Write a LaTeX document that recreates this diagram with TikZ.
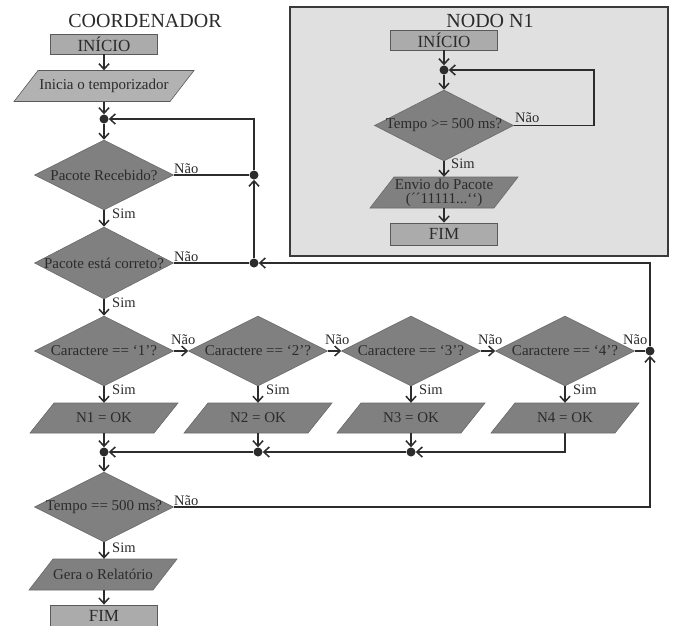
\documentclass[tikz,border=0pt]{standalone}
\usepackage{fontspec}
\setmainfont{Liberation Serif}
\usetikzlibrary{arrows.meta,shapes.geometric}
\definecolor{txt}{HTML}{2B2B2B}
\definecolor{ln}{HTML}{2C2C2C}
\definecolor{boxfill}{HTML}{ABABAB}
\definecolor{boxedge}{HTML}{5A5A5A}
\definecolor{decfill}{HTML}{808080}
\definecolor{decedge}{HTML}{6A6A6A}
\definecolor{lightp}{HTML}{B2B2B2}
\definecolor{framefill}{HTML}{E0E0E0}
\definecolor{frameedge}{HTML}{3A3A3A}
\newcommand\pgram[7]{%
  \path[#6] ([shift={({-(#4)/2-12},{(#5)/2})}]#2,#3) -- ++(24,{-(#5)}) -- ++(#4,0) -- ++(-24,#5) -- cycle;
  \node[pbody, minimum width=#4pt, minimum height=#5pt] (#1) at (#2,#3) {#7};
}
\tikzset{
  every node/.style={text=txt, font=\fontsize{15}{14}\selectfont},
  box/.style={draw=boxedge, fill=boxfill, line width=0.8pt, minimum width=107pt, minimum height=20pt, inner sep=0pt, font=\fontsize{17}{19}\selectfont},
  dec/.style={diamond, fill=decfill, draw=decedge, line width=0.6pt, minimum width=139pt, minimum height=70pt, inner sep=0pt},
  pbody/.style={inner sep=0pt, align=center},
  pdark/.style={fill=decfill, draw=decedge, line width=0.6pt},
  plight/.style={fill=lightp, draw=boxedge, line width=0.6pt},
  conn/.style={line width=1.8pt, draw=ln},
  arr/.style={conn, -{Straight Barb[length=5.5pt,width=10pt,line width=1.5pt]}},
  jdot/.style={circle, fill=ln, minimum size=9pt, inner sep=0pt},
  lbl/.style={inner sep=0pt, anchor=base west, font=\fontsize{14.5}{16}\selectfont},
  ttl/.style={inner sep=0pt, font=\fontsize{20}{22}\selectfont},
  frm/.style={draw=frameedge, fill=framefill, line width=1.8pt, minimum width=378pt, minimum height=249pt, inner sep=0pt}
}
\begin{document}
\begin{tikzpicture}[x=1pt,y=-1pt]
\useasboundingbox (0,0) rectangle (678,625);
\fill[white] (0,0) rectangle (678,625);
% ---------- NODO N1 frame ----------
\node[frm] (frame) at (479,131.5) {};
\node[ttl] (ttl2) at (490,20.5) {NODO N1};
\node[box] (ini2) at (444,40) {INÍCIO};
\node[jdot] (k1) at (444,70) {};
\coordinate (k2) at (594,70);
\node[dec, minimum height=71pt] (dn) at (444,125.5) {\makebox[0pt]{Tempo >= 500 ms?}};
\pgram{envio}{444}{192.5}{124}{31}{pdark}{Envio do Pacote\\(´\kern0pt´11111...\symbol{96}\kern0pt\symbol{96})}
\node[box, minimum height=22pt] (fim2) at (444,234) {FIM};
\node[lbl] (ln1) at (515,122) {Não};
\node[lbl] (ls1) at (451,168) {Sim};
\draw[arr] (ini2.south) -- (k1);
\draw[arr] (k1) -- (dn.north);
\draw[arr] (dn.east) -| (k2) -- (k1);
\draw[arr] (dn.south) -- (envio.north);
\draw[arr] (envio.south) -- (fim2.north);
% ---------- COORDENADOR ----------
\node[ttl] (ttl1) at (145,21) {COORDENADOR};
\node[box] (ini) at (104,44) {INÍCIO};
\pgram{temp}{104}{86}{156}{31}{plight}{Inicia o temporizador}
\node[jdot] (j1) at (104,119) {};
\node[dec] (d1) at (104,175) {\makebox[0pt]{Pacote Recebido?}};
\node[jdot] (j2) at (254,175) {};
\node[dec, minimum height=72pt] (d2) at (104,263) {\makebox[0pt]{Pacote está correto?}};
\node[jdot] (j3) at (254,263) {};
\node[dec] (c1) at (104,351) {\makebox[0pt]{Caractere == ‘1’?}};
\node[dec] (c2) at (258,351) {\makebox[0pt]{Caractere == ‘2’?}};
\node[dec] (c3) at (411,351) {\makebox[0pt]{Caractere == ‘3’?}};
\node[dec] (c4) at (565,351) {\makebox[0pt]{Caractere == ‘4’?}};
\node[jdot] (j4) at (650,351) {};
\pgram{p1}{104}{418}{124}{30}{pdark}{N1 = OK}
\pgram{p2}{258}{418}{124}{30}{pdark}{N2 = OK}
\pgram{p3}{411}{418}{124}{30}{pdark}{N3 = OK}
\pgram{p4}{565}{418}{124}{30}{pdark}{N4 = OK}
\node[jdot] (j5) at (104,452) {};
\node[jdot] (j6) at (258,452) {};
\node[jdot] (j7) at (411,452) {};
\node[dec] (t) at (104,507) {\makebox[0pt]{Tempo == 500 ms?}};
\pgram{gera}{103}{574.5}{124}{31}{pdark}{Gera o Relatório}
\node[box, minimum height=21pt] (fim) at (104,615.5) {FIM};
% labels
\node[lbl] (n1) at (174,173) {Não};
\node[lbl] (s1) at (112,218) {Sim};
\node[lbl] (n2) at (174,261) {Não};
\node[lbl] (s2) at (112,307) {Sim};
\node[lbl] (n3) at (171,344) {Não};
\node[lbl] (n4) at (325,344) {Não};
\node[lbl] (n5) at (478,344) {Não};
\node[lbl] (n6) at (623,344) {Não};
\node[lbl] (s3) at (112,394) {Sim};
\node[lbl] (s4) at (266,394) {Sim};
\node[lbl] (s5) at (419,394) {Sim};
\node[lbl] (s6) at (573,394) {Sim};
\node[lbl] (n7) at (174,505) {Não};
\node[lbl] (s7) at (112,552) {Sim};
% connectors
\draw[arr] (ini.south) -- (temp.north);
\draw[arr] (temp.south) -- (j1);
\draw[arr] (j1) -- (d1.north);
\draw[conn] (d1.east) -- (j2);
\draw[arr] (j3) -- (j2);
\draw[arr] (j2) |- (j1);
\draw[arr] (d1.south) -- (d2.north);
\draw[conn] (d2.east) -- (j3);
\draw[arr] (j4) |- (j3);
\draw[arr] (d2.south) -- (c1.north);
\draw[arr] (c1.east) -- (c2.west);
\draw[arr] (c2.east) -- (c3.west);
\draw[arr] (c3.east) -- (c4.west);
\draw[conn] (c4.east) -- (j4);
\draw[arr] (c1.south) -- (p1.north);
\draw[arr] (c2.south) -- (p2.north);
\draw[arr] (c3.south) -- (p3.north);
\draw[arr] (c4.south) -- (p4.north);
\draw[arr] (p1.south) -- (j5);
\draw[arr] (p2.south) -- (j6);
\draw[arr] (p3.south) -- (j7);
\draw[arr] (p4.south) |- (j7);
\draw[arr] (j7) -- (j6);
\draw[arr] (j6) -- (j5);
\draw[arr] (j5) -- (t.north);
\draw[arr] (t.east) -| (j4);
\draw[arr] (t.south) -- (t.south |- gera.north);
\draw[arr] (t.south |- gera.south) -- (fim.north);
\end{tikzpicture}
\end{document}
